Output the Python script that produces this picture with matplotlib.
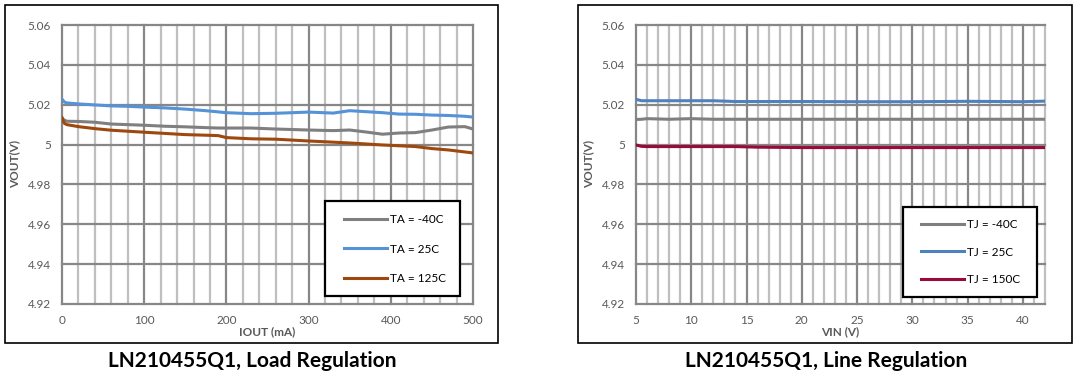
import matplotlib
matplotlib.use('Agg')
import matplotlib.pyplot as plt
from matplotlib.patches import Rectangle

## Load regulation data (IOUT in mA, VOUT in V)
iout = [0, 3, 6, 20, 40, 60, 80, 100, 125, 150, 175, 190, 200, 230, 260,
        300, 330, 350, 370, 390, 410, 430, 450, 470, 490, 500]
vout_m40 = [5.0133, 5.0122, 5.0117, 5.0116, 5.0112, 5.0103, 5.0100, 5.0097, 5.0092,
            5.0089, 5.0085, 5.0083, 5.0083, 5.0083, 5.0078, 5.0073, 5.0070, 5.0073,
            5.0063, 5.0052, 5.0058, 5.0060, 5.0073, 5.0088, 5.0090, 5.0078]
vout_25 = [5.0228, 5.0213, 5.0209, 5.0204, 5.0199, 5.0194, 5.0192, 5.0188, 5.0184,
           5.0178, 5.0170, 5.0164, 5.0160, 5.0155, 5.0157, 5.0163, 5.0158, 5.0170,
           5.0165, 5.0160, 5.0153, 5.0152, 5.0148, 5.0146, 5.0142, 5.0138]
vout_125 = [5.0135, 5.0106, 5.0100, 5.0090, 5.0080, 5.0072, 5.0067, 5.0062, 5.0056,
            5.0050, 5.0047, 5.0045, 5.0035, 5.0029, 5.0027, 5.0018, 5.0012, 5.0008,
            5.0003, 4.9998, 4.9994, 4.9990, 4.9980, 4.9973, 4.9963, 4.9958]
load_labels = ['TA = -40C', 'TA = 25C', 'TA = 125C']

## Line regulation data (VIN in V)
vin = [5, 5.5, 6, 8, 10, 12, 14, 16, 20, 25, 30, 35, 38, 40, 42]
line_m40 = [5.0126, 5.0127, 5.0130, 5.0127, 5.0130, 5.0127, 5.0127, 5.0127, 5.0127,
            5.0127, 5.0127, 5.0127, 5.0127, 5.0127, 5.0127]
line_25 = [5.0227, 5.0220, 5.0220, 5.0220, 5.0220, 5.0220, 5.0216, 5.0216, 5.0216,
           5.0215, 5.0215, 5.0217, 5.0216, 5.0215, 5.0218]
line_150 = [4.9998, 4.9991, 4.9990, 4.9990, 4.9990, 4.9990, 4.9990, 4.9987, 4.9985,
            4.9985, 4.9985, 4.9985, 4.9985, 4.9985, 4.9985]
line_labels = ['TJ = -40C', 'TJ = 25C', 'TJ = 150C']

W, H = 1078, 381
fig = plt.figure(figsize=(W / 100, H / 100), dpi=100)
plt.rcParams['font.family'] = ['Lato', 'DejaVu Sans']

TXT = '#595959'
GRID_DARK = '#878787'
GRID_LIGHT = '#bfbfbf'


def px_axes(x0, x1, y0, y1):
    return fig.add_axes([x0 / W, 1 - y1 / H, (x1 - x0) / W, (y1 - y0) / H])


def outer_box(x0, x1, y0, y1):
    fig.patches.append(Rectangle((x0 / W, 1 - y1 / H), (x1 - x0) / W, (y1 - y0) / H,
                                 transform=fig.transFigure, fill=False,
                                 edgecolor='black', lw=1.2))


def style_axes(ax, xlim, xmajor, xminor, xlabel):
    ax.set_xlim(*xlim)
    ax.set_ylim(4.92, 5.06)
    ax.set_xticks(xmajor)
    ax.set_xticks(xminor, minor=True)
    ax.set_yticks([4.92, 4.94, 4.96, 4.98, 5.00, 5.02, 5.04, 5.06])
    ax.set_yticklabels(['4.92', '4.94', '4.96', '4.98', '5', '5.02', '5.04', '5.06'])
    for s in ax.spines.values():
        s.set_visible(False)
    ax.tick_params(which='both', length=0, labelsize=8.5, labelcolor=TXT, pad=8)
    ax.grid(which='minor', axis='x', color=GRID_LIGHT, lw=1.6)
    ax.grid(which='major', axis='x', color=GRID_DARK, lw=1.6)
    ax.grid(which='major', axis='y', color=GRID_DARK, lw=1.6)
    ax.set_axisbelow(True)
    for t in ax.xaxis.get_major_ticks() + ax.xaxis.get_minor_ticks() + ax.yaxis.get_major_ticks():
        t.gridline.set_clip_on(False)
    ax.set_xlabel(xlabel, fontsize=8.5, fontweight='bold', color=TXT, labelpad=0)
    ax.set_ylabel('VOUT(V)', fontsize=8.5, fontweight='bold', color=TXT, labelpad=5)


def legend_box(ax, box, handle_x, center_y, spacing):
    ax.add_patch(Rectangle((box[0], box[1]), box[2] - box[0], box[3] - box[1],
                           transform=ax.transAxes, facecolor='white',
                           edgecolor='black', lw=1.6, zorder=5, clip_on=False))
    leg = ax.legend(loc='center left', bbox_to_anchor=(handle_x, center_y),
                    frameon=False, fontsize=8.5, handlelength=3.65, handletextpad=0.25,
                    labelspacing=spacing, borderpad=0, borderaxespad=0)
    leg.set_zorder(6)


## Load regulation
outer_box(5, 498, 5, 343)
ax1 = px_axes(62, 473, 25, 304)
ax1.plot(iout, vout_m40, color='#7f7f7f', lw=2.2, label=load_labels[0])
ax1.plot(iout, vout_25, color='#5592d8', lw=2.2, label=load_labels[1])
ax1.plot(iout, vout_125, color='#9e480e', lw=2.2, label=load_labels[2])
style_axes(ax1, (0, 500), range(0, 501, 100), range(0, 501, 20), 'IOUT (mA)')
legend_box(ax1, (0.640, 0.029, 0.968, 0.369), 0.686, 0.197, 1.55)
fig.text(252 / W, 1 - 361 / H, 'LN210455Q1, Load Regulation', ha='center', va='center',
         fontsize=15, fontweight='bold', color='black')

## Line regulation
outer_box(578, 1072, 5, 343)
ax2 = px_axes(636, 1045, 25, 304)
ax2.plot(vin, line_m40, color='#7f7f7f', lw=2.2, label=line_labels[0])
ax2.plot(vin, line_25, color='#4f81bd', lw=2.2, label=line_labels[1])
ax2.plot(vin, line_150, color='#990a3c', lw=2.2, label=line_labels[2])
style_axes(ax2, (5, 42), range(5, 41, 5), range(5, 43, 1), 'VIN (V)')
legend_box(ax2, (0.653, 0.025, 0.980, 0.348), 0.697, 0.186, 1.42)
fig.text(826 / W, 1 - 361 / H, 'LN210455Q1, Line Regulation', ha='center', va='center',
         fontsize=15, fontweight='bold', color='black')

fig.savefig('out.png', dpi=100)
